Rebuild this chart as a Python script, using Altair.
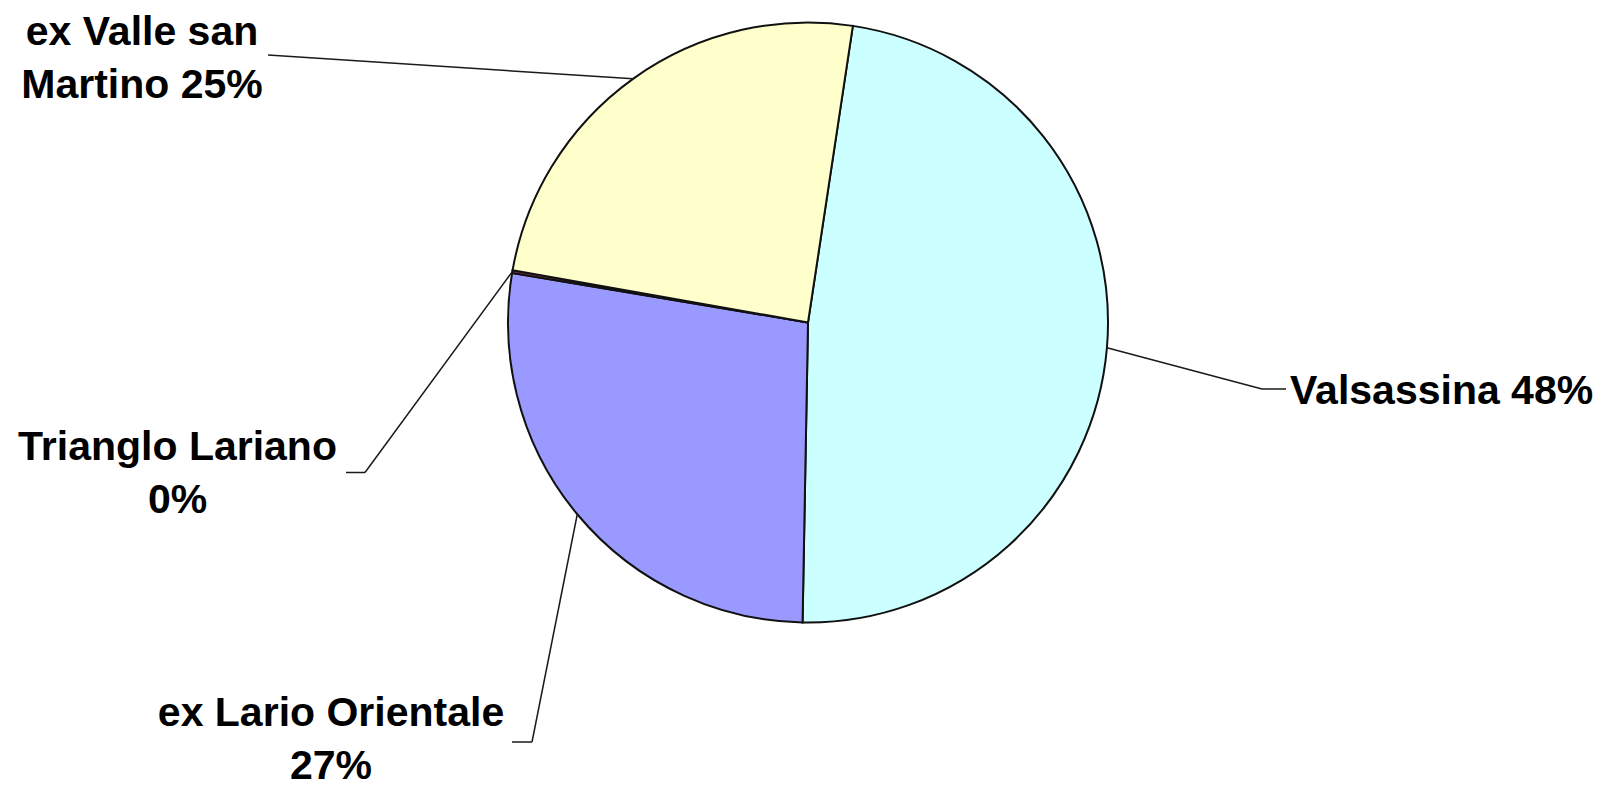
import math
import altair as alt
import pandas as pd

# ---- data ----
CATEGORIES = ["Valsassina", "ex Lario Orientale", "Trianglo Lariano", "ex Valle san Martino"]
VALUES = [47.9, 27.35, 0.15, 24.6]
COLORS = ["#CCFFFF", "#9999FF", "#993366", "#FFFFCC"]
# label text lines; {p} is replaced by the rounded percentage
LABEL_LINES = [
    ["Valsassina {p}"],
    ["ex Lario Orientale", "{p}"],
    ["Trianglo Lariano", "{p}"],
    ["ex Valle san", "Martino {p}"],
]

# ---- layout (page pixel coordinates) ----
W, H = 1590, 781
MARGIN = 8
CX, CY, R = 808.0, 322.5, 300.0
START = math.radians(8.6)
FONT = "Liberation Sans"
FONT_SIZE = 41
LINE_HEIGHT = 53
LAYOUT = {
    "Valsassina": dict(align="left", tx=1290, ty=404, ex=1262, ey=389, lx=1286, ly=389),
    "ex Lario Orientale": dict(align="center", tx=331, ty=726, ex=532, ey=742, lx=512, ly=742),
    "Trianglo Lariano": dict(align="center", tx=177.5, ty=459.5, ex=365, ey=472.5, lx=346, ly=472.5),
    "ex Valle san Martino": dict(align="center", tx=142, ty=45, ex=268, ey=55, lx=268, ly=55),
}

total = sum(VALUES)
rows = []
for i, (c, v, col, lines) in enumerate(zip(CATEGORIES, VALUES, COLORS, LABEL_LINES)):
    pct = f"{round(v / total * 100):.0f}%"
    lay = LAYOUT[c]
    rows.append(dict(category=c, value=v, order=i, color=col,
                     label=[ln.replace("{p}", pct) for ln in lines], **lay))
df = pd.DataFrame(rows)

XS = alt.Scale(domain=[MARGIN, MARGIN + W], range=[0, W], nice=False, zero=False)
YS = alt.Scale(domain=[MARGIN, MARGIN + H], range=[0, H], nice=False, zero=False)

base = alt.Chart(df)

pie = base.mark_arc(radius=R, stroke="#111111", strokeWidth=2).encode(
    theta=alt.Theta("value:Q", stack=True,
                    scale=alt.Scale(range=[START, START + 2 * math.pi])),
    order=alt.Order("order:Q"),
    color=alt.Color("color:N", scale=None, legend=None),
    x=alt.X(datum=CX, type="quantitative", scale=XS, axis=None),
    y=alt.Y(datum=CY, type="quantitative", scale=YS, axis=None),
)

leader_base = base.transform_joinaggregate(
    total="sum(value)"
).transform_window(
    cum="sum(value)", sort=[alt.SortField("order")], frame=[None, 0]
).transform_calculate(
    ang=f"{START} + 2 * PI * (datum.cum - datum.value / 2) / datum.total"
).transform_calculate(
    px=f"{CX} + {R} * sin(datum.ang)",
    py=f"{CY} - {R} * cos(datum.ang)",
)

leader1 = leader_base.mark_rule(color="#1a1a1a", strokeWidth=1.5).encode(
    x=alt.X("px:Q", scale=XS, axis=None),
    y=alt.Y("py:Q", scale=YS, axis=None),
    x2="ex:Q",
    y2="ey:Q",
)
leader2 = base.mark_rule(color="#1a1a1a", strokeWidth=1.5).encode(
    x=alt.X("ex:Q", scale=XS, axis=None),
    y=alt.Y("ey:Q", scale=YS, axis=None),
    x2="lx:Q",
    y2="ly:Q",
)


def text_layer(al):
    return base.transform_filter(alt.datum.align == al).mark_text(
        align=al, baseline="alphabetic", font=FONT, fontSize=FONT_SIZE,
        fontWeight="bold", lineHeight=LINE_HEIGHT, color="#000000",
    ).encode(
        x=alt.X("tx:Q", scale=XS, axis=None),
        y=alt.Y("ty:Q", scale=YS, axis=None),
        text="label:N",
    )


chart = alt.layer(
    pie, leader1, leader2, text_layer("left"), text_layer("center")
).properties(
    width=W, height=H, padding=0, autosize=alt.AutoSizeParams(type="none"),
    background="white",
).configure_view(stroke=None)

chart.save("out.html", embed_options={"renderer": "svg", "actions": False})
